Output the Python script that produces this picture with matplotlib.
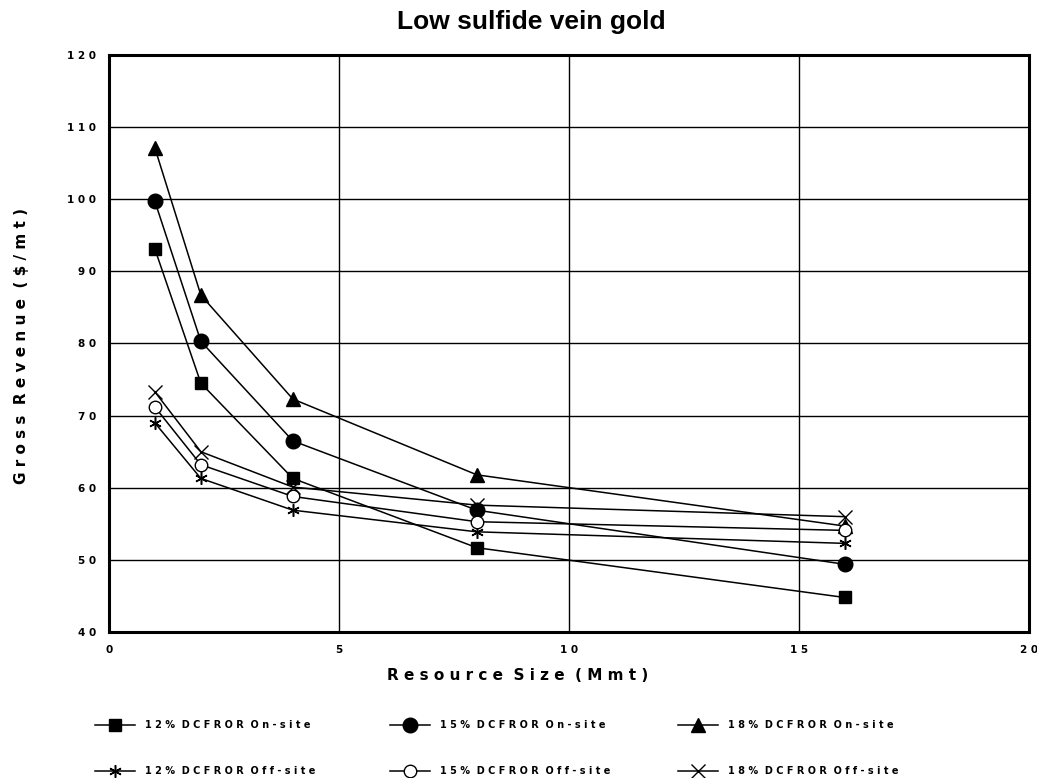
import numpy as np
import matplotlib
matplotlib.use("Agg")
import matplotlib.pyplot as plt
from matplotlib.lines import Line2D
from matplotlib.ticker import FuncFormatter, MultipleLocator

# resource size (Mmt) and gross revenue ($/mt) per DCFROR case
size = [1, 2, 4, 8, 16]
on12 = [93.1, 74.5, 61.3, 51.7, 44.8]
on15 = [99.7, 80.3, 66.5, 56.9, 49.4]
on18 = [107.1, 86.7, 72.3, 61.8, 54.7]
off12 = [69.0, 61.3, 56.9, 53.9, 52.3]
off15 = [71.2, 63.2, 58.8, 55.3, 54.1]
off18 = [73.3, 65.0, 60.1, 57.6, 56.0]

labels = ["12% DCFROR On-site", "15% DCFROR On-site", "18% DCFROR On-site",
          "12% DCFROR Off-site", "15% DCFROR Off-site", "18% DCFROR Off-site"]
series = [on12, on15, on18, off12, off15, off18]
styles = [dict(marker="s", ms=8.5, mfc="black"),
          dict(marker="o", ms=10.5, mfc="black"),
          dict(marker="^", ms=9.5, mfc="black"),
          dict(marker=(6, 2, 0), ms=9, mew=1.1),
          dict(marker="o", ms=9, mfc="white", mew=1.0),
          dict(marker="x", ms=9.5, mew=1.0)]

MONO = ["Liberation Sans Narrow", "DejaVu Sans"]


def spaced(s):
    # typewriter-style letter spacing of the old plotter fonts
    return "  ".join(" ".join(w) for w in s.split(" "))


fig = plt.figure(figsize=(10.37, 7.78), dpi=100)
ax = fig.add_axes([0.105, 0.1875, 0.887, 0.742])

for ys, st in zip(series, styles):
    ax.plot(size, ys, color="black", lw=1.1, mec="black", zorder=3, **st)

ax.set_xlim(0, 20)
ax.set_ylim(40, 120)
ax.xaxis.set_major_locator(MultipleLocator(5))
ax.yaxis.set_major_locator(MultipleLocator(10))
fmt = FuncFormatter(lambda v, p: " ".join(f"{v:g}"))
ax.xaxis.set_major_formatter(fmt)
ax.yaxis.set_major_formatter(fmt)
ax.tick_params(length=0, pad=9)
for t in ax.get_xticklabels() + ax.get_yticklabels():
    t.set_family(MONO)
    t.set_fontweight("bold")
    t.set_fontsize(7.5)
ax.grid(True, color="black", lw=1.0)
for s in ax.spines.values():
    s.set_linewidth(2.2)

fig.text(0.512, 0.972, "Low sulfide vein gold", ha="center", va="center",
         fontsize=19, fontweight="bold", family="Liberation Sans")
fig.text(0.499, 0.132, spaced("Resource Size (Mmt)"), ha="center", va="center",
         fontsize=11, fontweight="bold", family=MONO)
fig.text(0.021, 0.555, spaced("Gross Revenue ($/mt)"), ha="center", va="center",
         rotation=90, fontsize=11, fontweight="bold", family=MONO)

# legend: three columns, two rows under the plot
col_x = [95, 390, 678]
row_y = [725, 771]
W, H = 1037, 778
for i, (lab, st) in enumerate(zip(labels, styles)):
    x0 = col_x[i % 3]
    y0 = H - row_y[i // 3]
    fig.add_artist(Line2D([x0 / W, (x0 + 40) / W], [y0 / H, y0 / H],
                          color="black", lw=1.1))
    fig.add_artist(Line2D([(x0 + 20) / W], [y0 / H], color="black",
                          lw=0, mec="black", **st))
    fig.text((x0 + 50) / W, y0 / H, spaced(lab), ha="left", va="center",
             fontsize=7, fontweight="bold", family=MONO)

fig.savefig("out.png", dpi=100)
